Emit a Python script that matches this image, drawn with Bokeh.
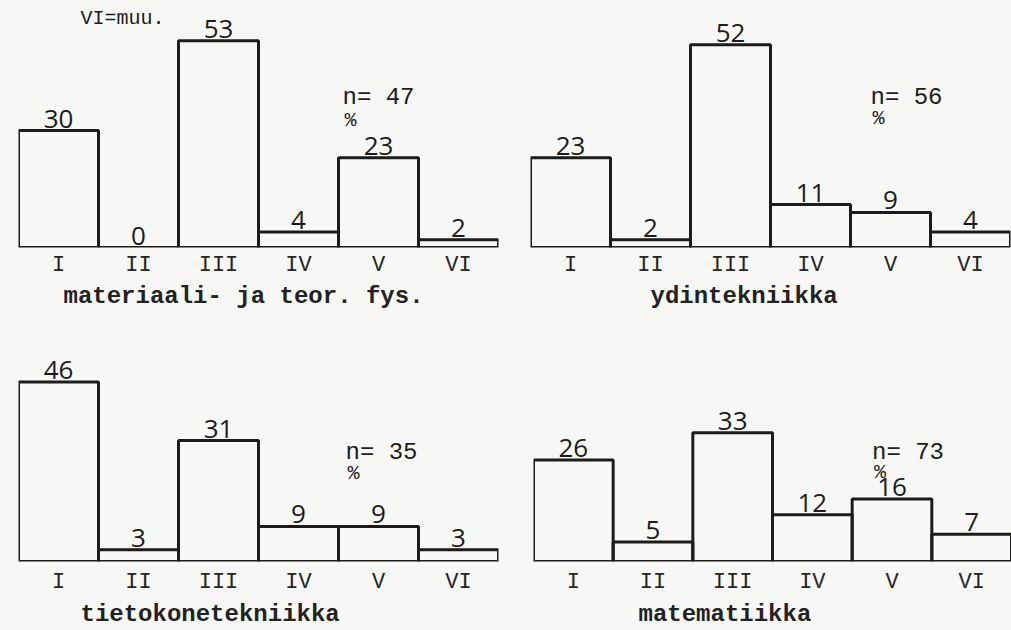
from bokeh.plotting import figure
from bokeh.layouts import column, row
from bokeh.models import FactorRange, Range1d, Label, Title, ColumnDataSource
from bokeh.embed import file_html
from bokeh.resources import INLINE
from bokeh.core.properties import value

# ---- data ----
categories = ["I", "II", "III", "IV", "V", "VI"]
titles = ["materiaali- ja teor. fys.", "ydintekniikka", "tietokonetekniikka", "matematiikka"]
vals_materiaali = [30, 0, 53, 4, 23, 2]
vals_ydin = [23, 2, 52, 11, 9, 4]
vals_tietokone = [46, 3, 31, 9, 9, 3]
vals_matematiikka = [26, 5, 33, 12, 16, 7]
n_values = [47, 56, 35, 73]
note_text = "VI=muu."

BG = "#f7f7f5"
INK = "#1c1c1c"
MONO = "Liberation Mono"
HAND = "Open Sans"


def cat_center(c):
    # synthetic coordinate of a factor's centre on the categorical axis
    return categories.index(c) + 0.5


def panel(vals, title, n, width, height, bl, br, bt, bb, y_end,
          title_offset, title_standoff, label_standoff, n_xoff, n_y, pct_y, note=None):
    p = figure(width=width, height=height, x_range=FactorRange(*categories, range_padding=0),
               y_range=Range1d(0, y_end), y_axis_location=None,
               output_backend="svg", toolbar_location=None, title=None,
               min_border_left=bl, min_border_right=br, min_border_top=bt,
               min_border_bottom=bb)
    p.background_fill_color = BG
    p.border_fill_color = BG
    p.outline_line_color = None
    p.xgrid.visible = False
    p.ygrid.visible = False

    src = ColumnDataSource(dict(cat=categories, val=vals, lab=[str(v) for v in vals]))
    p.vbar(x="cat", top="val", bottom=0, width=1.0, source=src,
           fill_alpha=0, line_color=INK, line_width=3)
    p.text(x="cat", y="val", text="lab", source=src, text_align="center",
           text_baseline="alphabetic", y_offset=-12, text_font=value(HAND),
           text_font_size="26px", text_color=INK)

    ax = p.xaxis[0]
    ax.axis_line_color = None
    ax.major_tick_line_color = None
    ax.minor_tick_line_color = None
    ax.major_label_standoff = label_standoff
    ax.major_label_text_font = MONO
    ax.major_label_text_font_size = "22px"
    ax.major_label_text_color = "#262626"

    xv = cat_center("V")
    p.add_layout(Label(x=xv, y=n_y, x_offset=n_xoff, text=f"n= {n}",
                       text_align="left", text_baseline="middle",
                       text_font=MONO, text_font_size="24px", text_color=INK))
    p.add_layout(Label(x=xv, y=pct_y, x_offset=n_xoff + 2, text="%",
                       text_align="left", text_baseline="middle",
                       text_font=MONO, text_font_size="20px", text_color=INK))
    if note:
        p.add_layout(Label(x=cat_center("I"), y=y_end - 2.6, x_offset=22, text=note,
                           text_align="left", text_baseline="middle",
                           text_font=MONO, text_font_size="20px", text_color=INK))

    p.add_layout(Title(text=title, align="left", offset=title_offset, standoff=title_standoff,
                       text_font=MONO, text_font_size="24px", text_font_style="bold",
                       text_color="#222222"), "below")
    return p


# top row: frame top 8, baseline 247 -> 239 px for 61.3 units
p1 = panel(vals_materiaali, titles[0], n_values[0], 514, 314, 18, 16, 8, 67, 61.3,
           45, 0, -1, -36, 38.5, 32.6, note=note_text)
p2 = panel(vals_ydin, titles[1], n_values[1], 497, 314, 16, 1, 8, 67, 61.3,
           120, 0, -1, -20, 38.5, 33.0)
# bottom row: frame top 330, baseline 561 -> 231 px for 59.2 units
p3 = panel(vals_tietokone, titles[2], n_values[2], 514, 316, 18, 16, 16, 69, 59.2,
           62, 3, 2, -33, 28.0, 22.6)
p4 = panel(vals_matematiikka, titles[3], n_values[3], 497, 316, 19, 0, 16, 69, 59.2,
           105, 3, 2, -20, 28.0, 22.8)

layout = column(row(p1, p2, spacing=0), row(p3, p4, spacing=0), spacing=0)
layout.styles = {"background-color": BG}

open("out.html", "w").write(file_html(layout, INLINE))
